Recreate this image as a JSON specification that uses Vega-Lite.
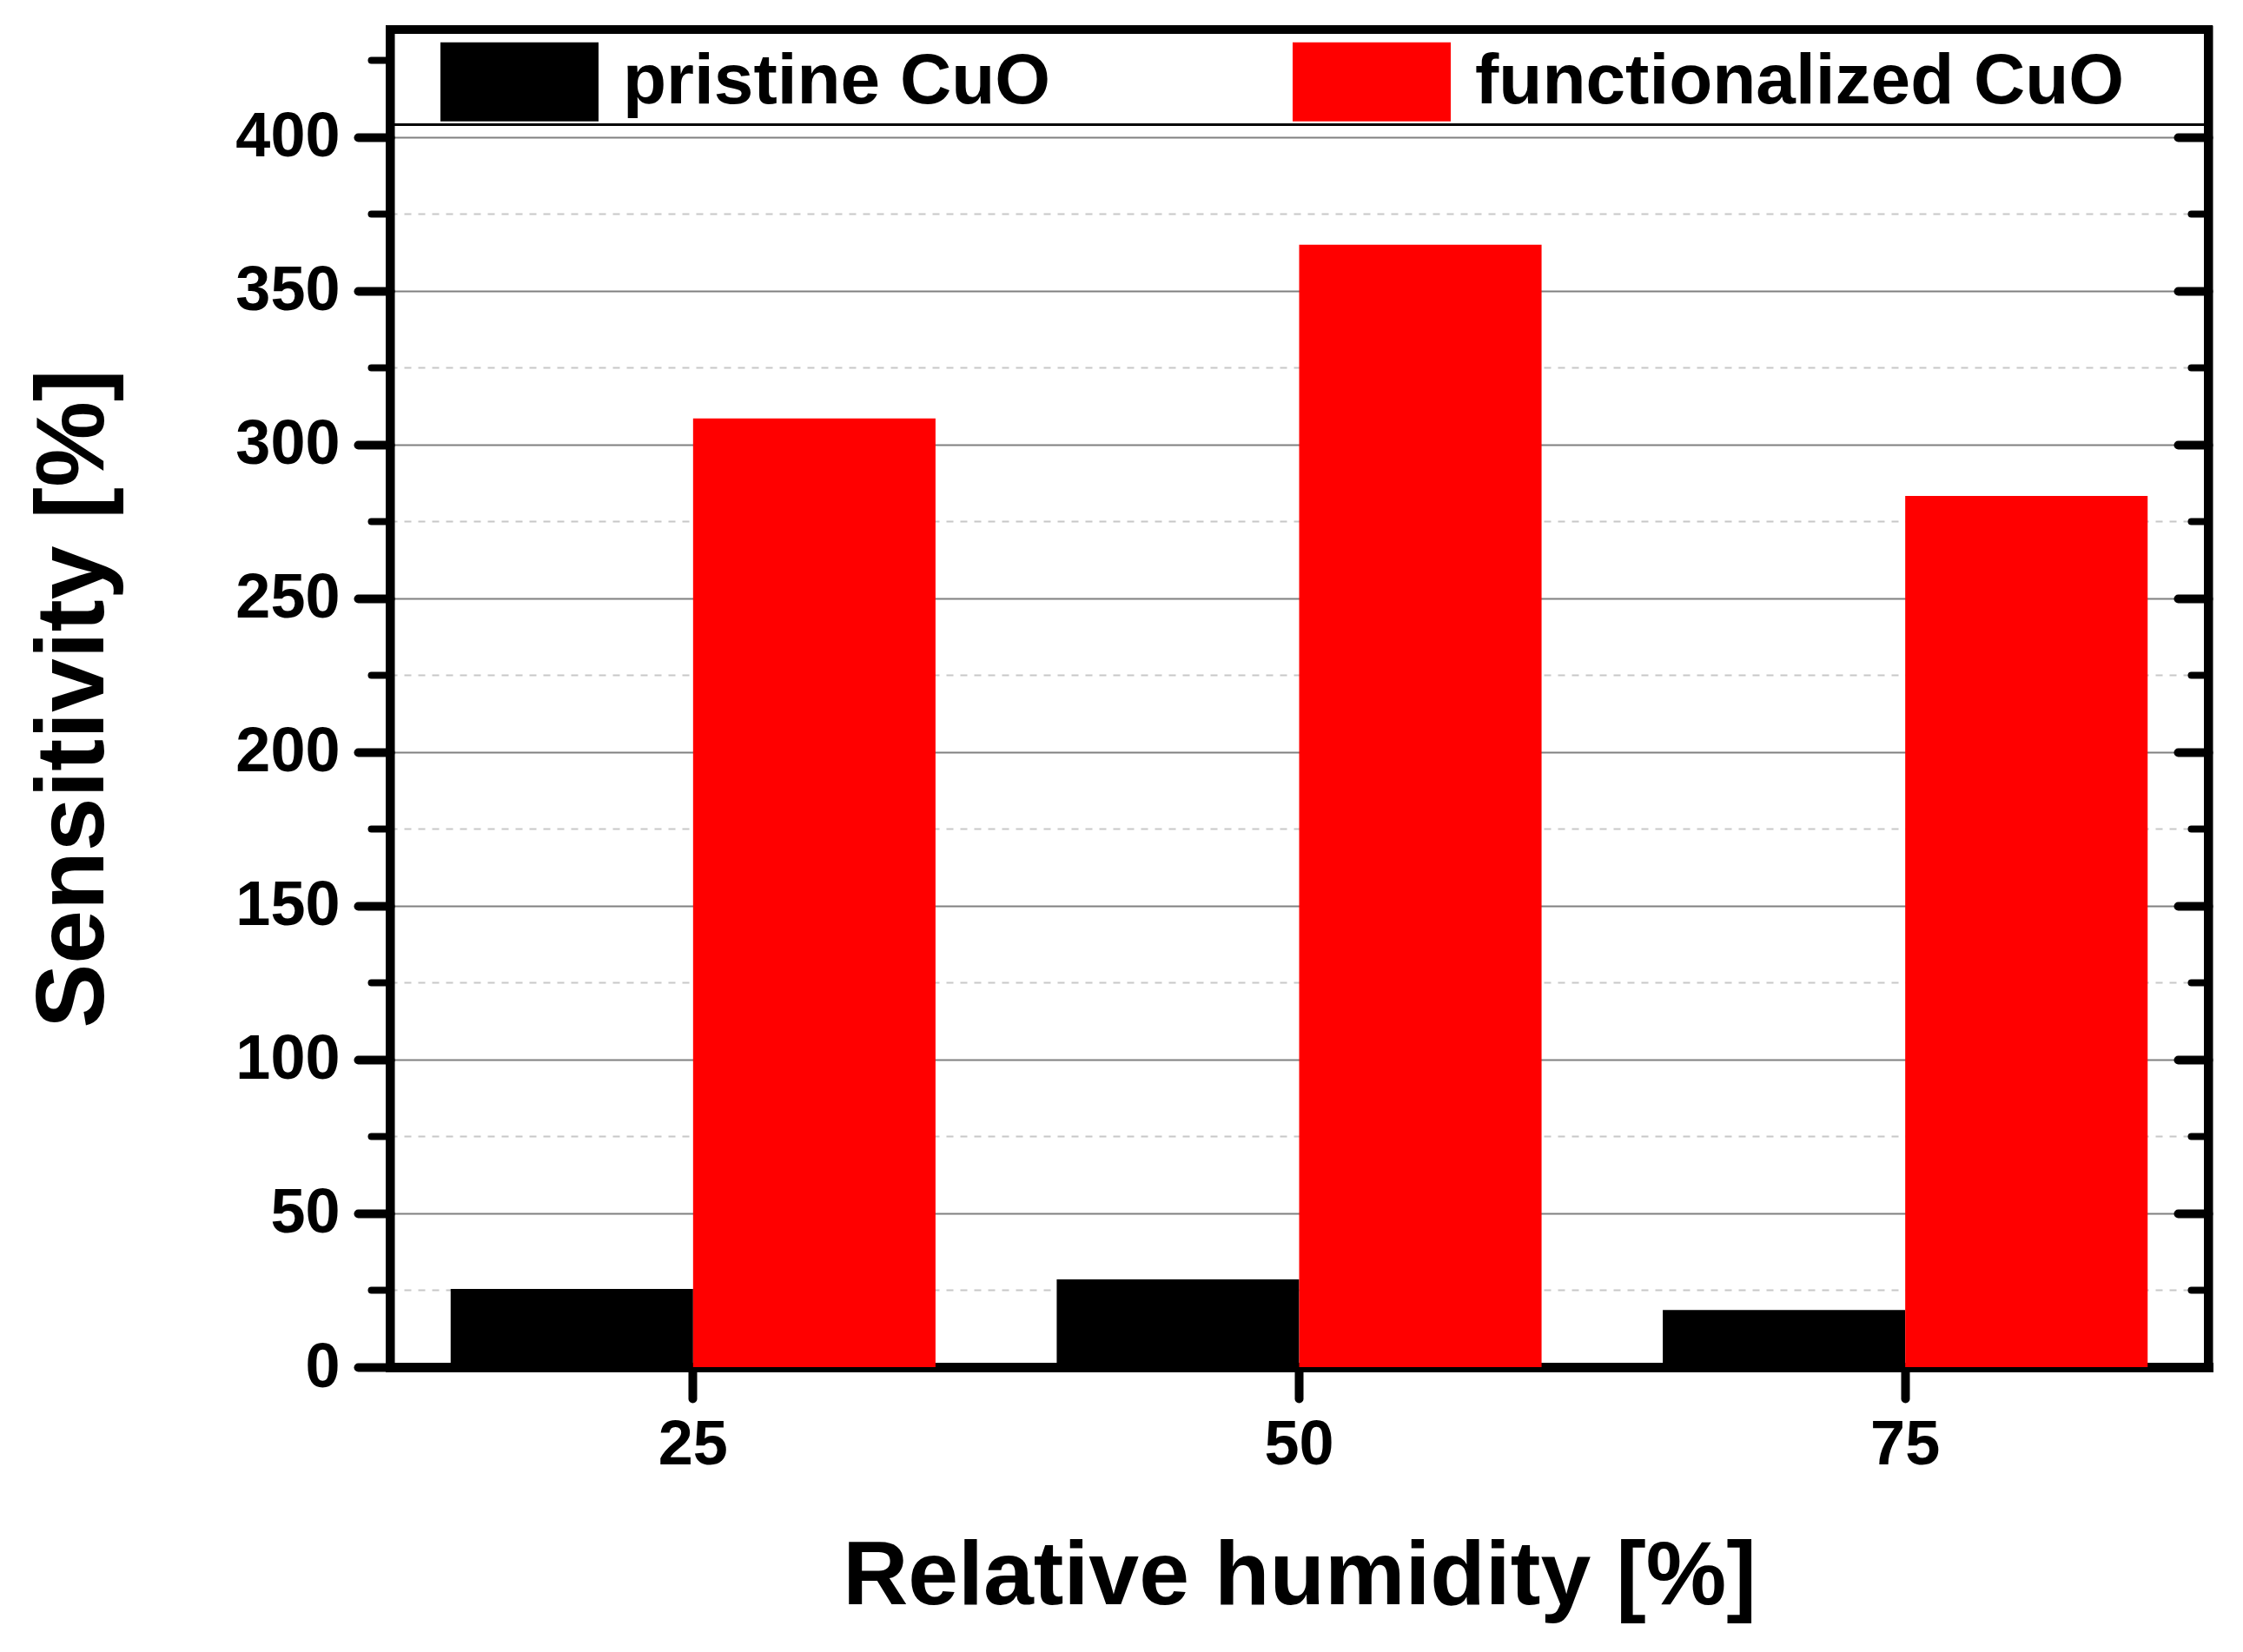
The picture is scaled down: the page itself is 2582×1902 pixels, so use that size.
{
  "$schema": "https://vega.github.io/schema/vega-lite/v6.json",
  "width": 2093,
  "height": 1540,
  "autosize": "none",
  "padding": {"left": 449, "top": 34, "right": 40, "bottom": 328},
  "background": "white",
  "config": {
    "font": "Liberation Sans",
    "view": {"stroke": "black", "strokeWidth": 10},
    "axis": {
      "labelFont": "Liberation Sans",
      "labelFontWeight": "bold",
      "labelFontSize": 72,
      "labelColor": "black",
      "titleFont": "Liberation Sans",
      "titleFontWeight": "bold",
      "titleColor": "black",
      "tickColor": "black",
      "tickCap": "round",
      "domainColor": "black",
      "domainCap": "square",
      "zindex": 1
    },
    "legend": {
      "labelFont": "Liberation Sans",
      "labelFontWeight": "bold",
      "labelFontSize": 82,
      "labelColor": "black",
      "labelLimit": 1000
    }
  },
  "data": {
    "values": [
      {"rh": 25, "series": "pristine CuO", "value": 25.4},
      {"rh": 50, "series": "pristine CuO", "value": 28.5},
      {"rh": 75, "series": "pristine CuO", "value": 18.6},
      {"rh": 25, "series": "functionalized CuO", "value": 308.5},
      {"rh": 50, "series": "functionalized CuO", "value": 365},
      {"rh": 75, "series": "functionalized CuO", "value": 283.3}
    ]
  },
  "resolve": {"axis": {"y": "independent"}},
  "layer": [
    {
      "mark": {"type": "point", "opacity": 0},
      "encoding": {
        "y": {
          "field": "value",
          "type": "quantitative",
          "scale": {"domain": [0, 435], "nice": false},
          "axis": {
            "orient": "left",
            "values": [25, 75, 125, 175, 225, 275, 325, 375],
            "grid": true,
            "gridColor": "#c8c8c8",
            "gridWidth": 2,
            "gridDash": [8, 8],
            "ticks": false,
            "labels": false,
            "domain": false,
            "title": null,
            "zindex": 0
          }
        }
      }
    },
    {
      "mark": {"type": "bar"},
      "encoding": {
        "x": {
          "field": "rh",
          "type": "ordinal",
          "scale": {"paddingInner": 0.2, "paddingOuter": 0.1},
          "axis": {
            "title": "Relative humidity [%]",
            "titleFontSize": 104,
            "titleBaseline": "alphabetic",
            "titleY": 272,
            "labelAngle": 0,
            "labelPadding": 18,
            "tickSize": 36,
            "tickWidth": 10,
            "domainWidth": 11
          }
        },
        "xOffset": {
          "field": "series",
          "type": "nominal",
          "sort": ["pristine CuO", "functionalized CuO"],
          "scale": {"paddingInner": 0, "paddingOuter": 0}
        },
        "y": {
          "field": "value",
          "type": "quantitative",
          "scale": {"domain": [0, 435], "nice": false},
          "axis": {
            "orient": "left",
            "values": [0, 50, 100, 150, 200, 250, 300, 350, 400],
            "grid": true,
            "gridColor": "#808080",
            "gridWidth": 2,
            "tickSize": 37,
            "tickWidth": 10,
            "labelPadding": 21,
            "domainWidth": 10,
            "title": "Sensitivity [%]",
            "titleFontSize": 111,
            "titleBaseline": "alphabetic",
            "titleAngle": -90,
            "titleX": -331,
            "titleY": 770
          }
        },
        "color": {
          "field": "series",
          "type": "nominal",
          "scale": {
            "domain": ["pristine CuO", "functionalized CuO"],
            "range": ["#000000", "#ff0000"]
          },
          "legend": {
            "title": null,
            "orient": "none",
            "legendX": 58,
            "legendY": -31,
            "direction": "horizontal",
            "columns": 2,
            "columnPadding": 278,
            "padding": 0,
            "symbolType": "M-1,-0.5H1V0.5H-1Z",
            "symbolSize": 33124,
            "symbolStrokeWidth": 0,
            "symbolOpacity": 1,
            "labelOffset": 28
          }
        }
      }
    },
    {
      "mark": {"type": "point", "opacity": 0},
      "encoding": {
        "y": {
          "field": "value",
          "type": "quantitative",
          "scale": {"domain": [0, 435], "nice": false},
          "axis": {
            "orient": "left",
            "values": [25, 75, 125, 175, 225, 275, 325, 375, 425],
            "tickSize": 22,
            "tickWidth": 8,
            "labels": false,
            "domain": false,
            "grid": false,
            "title": null
          }
        }
      }
    },
    {
      "mark": {"type": "point", "opacity": 0},
      "encoding": {
        "y": {
          "field": "value",
          "type": "quantitative",
          "scale": {"domain": [0, 435], "nice": false},
          "axis": {
            "orient": "right",
            "values": [0, 50, 100, 150, 200, 250, 300, 350, 400],
            "tickSize": -35,
            "tickWidth": 10,
            "labels": false,
            "domainWidth": 10,
            "grid": false,
            "title": null
          }
        }
      }
    },
    {
      "mark": {"type": "point", "opacity": 0},
      "encoding": {
        "y": {
          "field": "value",
          "type": "quantitative",
          "scale": {"domain": [0, 435], "nice": false},
          "axis": {
            "orient": "right",
            "values": [25, 75, 125, 175, 225, 275, 325, 375],
            "tickSize": -20,
            "tickWidth": 8,
            "labels": false,
            "domain": false,
            "grid": false,
            "title": null
          }
        }
      }
    },
    {
      "mark": {"type": "rule", "color": "black", "strokeWidth": 2.5},
      "encoding": {
        "y": {"datum": 404, "type": "quantitative", "axis": null}
      }
    }
  ]
}
